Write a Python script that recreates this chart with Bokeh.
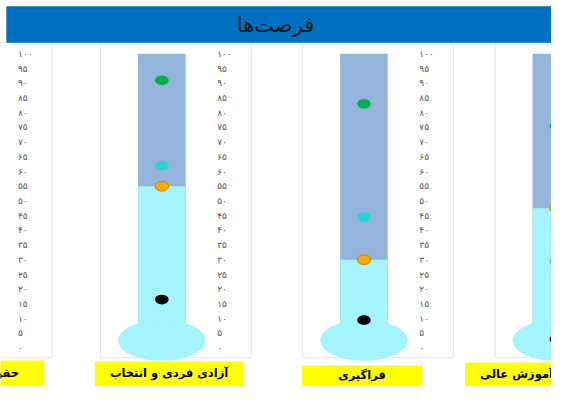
from bokeh.plotting import figure
from bokeh.models import Range1d, ColumnDataSource
from bokeh.core.properties import value
from bokeh.embed import file_html
from bokeh.resources import INLINE

# ---------------- data ----------------
title_text = "فرصت‌ها"
categories = ["حقوق شخصی", "آزادی فردی و انتخاب", "فراگیری", "آموزش عالی"]
score = [None, 55, 30, 47.5]       # fill level (orange marker)
best = [None, 91, 83, 75.5]        # green marker
average = [None, 62, 44.5, 29.5]   # turquoise marker
worst = [None, 16.5, 9.5, 3]       # black marker
tick_values = [0, 5, 10, 15, 20, 25, 30, 35, 40, 45, 50, 55, 60, 65, 70, 75, 80, 85, 90, 95, 100]
tick_labels = ["۰", "۵", "۱۰", "۱۵", "۲۰", "۲۵", "۳۰", "۳۵", "۴۰", "۴۵", "۵۰", "۵۵",
               "۶۰", "۶۵", "۷۰", "۷۵", "۸۰", "۸۵", "۹۰", "۹۵", "۱۰۰"]

# ---------------- layout (dashboard frame 567 x 402, drawn into 551 x 386) ----------------
W, H = 551, 386
FW, FH = 567, 402
S = W / FW                          # screen scale for fixed-size marks
centers = [-39, 166, 374, 572]      # thermometer centres
box_left = [-90, 97, 310, 478]
box_right = [45, 250, 434, 584]
box_top = [375, 376, 380, 377]
ZERO_Y, PX_PER_UNIT = 362.0, 3.065

FONT = value("DejaVu Sans")

p = figure(width=W, height=H, output_backend="svg", toolbar_location=None,
           x_range=Range1d(0, FW), y_range=Range1d(FH, 0),
           min_border=0, outline_line_color=None, background_fill_color="white",
           border_fill_color="white")
p.extra_y_ranges = {"val": Range1d((ZERO_Y - FH) / PX_PER_UNIT, ZERO_Y / PX_PER_UNIT)}
p.axis.visible = False
p.grid.visible = False

# panels
p.quad(left=[c - 63 for c in centers], right=[c + 92 for c in centers],
       top=44, bottom=372, fill_color="white", line_color="#E3E3E3", line_width=1)

# title bar
p.quad(left=[6], right=[600], top=[6], bottom=[44], fill_color="#0070C0", line_color=None)
p.text(x=[283], y=[25], text=[title_text], text_align="center", text_baseline="middle",
       text_font=FONT, text_font_size=value("21px"), text_color="#151515")

# thermometers (only panels with data)
idx = [i for i in range(len(categories)) if score[i] is not None]
src = ColumnDataSource(dict(
    x=[centers[i] for i in idx],
    score=[score[i] for i in idx],
    best=[best[i] for i in idx],
    average=[average[i] for i in idx],
    worst=[worst[i] for i in idx],
))
p.vbar(x="x", width=49, bottom=2, top=100, source=src, y_range_name="val",
       fill_color="#93B5DC", line_color=None)
p.vbar(x="x", width=49, bottom=2, top="score", source=src, y_range_name="val",
       fill_color="#A3F5FB", line_color=None)
p.ellipse(x="x", y=2.6, width=90 * S, height=42 * S, width_units="screen", height_units="screen",
          source=src, y_range_name="val", fill_color="#A3F5FB", line_color=None)

def dots(field, fill, line):
    p.ellipse(x="x", y=field, width=14 * S, height=10 * S, width_units="screen",
              height_units="screen", source=src, y_range_name="val",
              fill_color=fill, line_color=line, line_width=1)

dots("best", "#00B050", None)
dots("average", "#22D6D6", None)
dots("score", "#FFA800", "#C98500")
dots("worst", "#000000", None)

# axis labels next to each thermometer (only those inside the frame)
for c in centers:
    if 0 <= c + 57 <= FW - 20:
        p.text(x=[c + 57] * len(tick_values), y=tick_values, text=tick_labels,
               y_range_name="val", text_align="left", text_baseline="middle",
               text_font=FONT, text_font_size=value("9px"), text_color="#555555")

# category labels
p.quad(left=box_left, right=box_right, top=box_top, bottom=[FH + 2] * len(box_top),
       fill_color="#FFFF00", line_color=None)
p.text(x=[(l + r) / 2 for l, r in zip(box_left, box_right)],
       y=[(t + 400) / 2 for t in box_top], text=categories,
       text_align="center", text_baseline="middle", text_font=FONT,
       text_font_size=value("11.5px"), text_font_style="bold", text_color="#000000")

open("out.html", "w").write(file_html(p, INLINE))
